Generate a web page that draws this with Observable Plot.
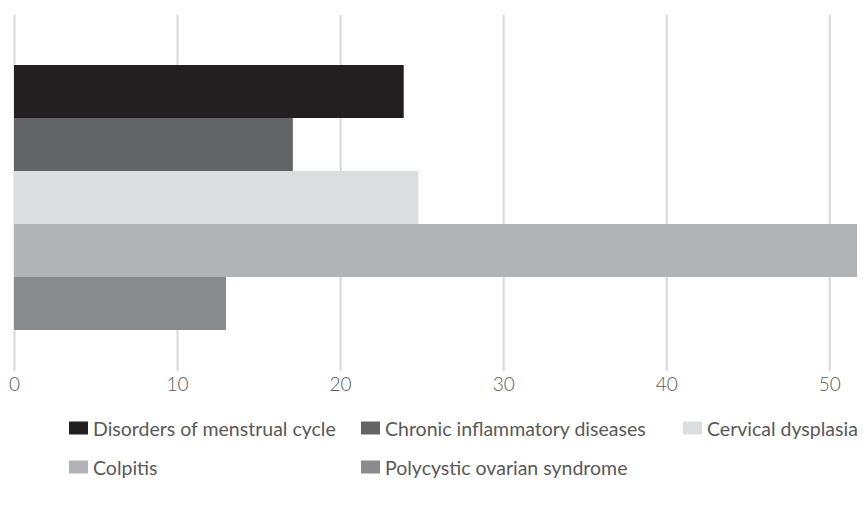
<!DOCTYPE html>
<html>
<head>
<meta charset="utf-8">
<script src="https://cdn.jsdelivr.net/npm/d3@7"></script>
<script src="https://cdn.jsdelivr.net/npm/@observablehq/plot@0.6"></script>
<style>
  html, body { margin: 0; padding: 0; background: #fff; }
  #wrap { position: relative; width: 863px; height: 505px; font-family: Lato, "Open Sans", sans-serif; }
  #legend { position: absolute; left: 0; top: 0; width: 863px; height: 505px; pointer-events: none; }
  .item { position: absolute; display: flex; align-items: center; font-size: 19.5px; color: #595959; white-space: nowrap; transform: translateY(-50%); }
  .sw { width: 19px; height: 13px; margin-right: 5px; }
</style>
</head>
<body>
<div id="wrap"><div id="chart"></div><div id="legend"></div></div>
<script>
const categories = ["Disorders of menstrual cycle", "Chronic inflammatory diseases", "Cervical dysplasia", "Colpitis", "Polycystic ovarian syndrome"];
const values = [23.9, 17.1, 24.8, 51.7, 13.0];
const colors = ["#231f20", "#636466", "#dcddde", "#b2b3b6", "#8a8b8f"];
const xTicks = [0, 10, 20, 30, 40, 50];

const data = categories.map((c, i) => ({category: c, value: values[i]}));

const chart = Plot.plot({
  width: 863,
  height: 400,
  marginLeft: 14,
  marginRight: 6,
  marginTop: 15,
  marginBottom: 29,
  style: {fontFamily: "Lato, 'Open Sans', sans-serif", background: "#fff"},
  x: {domain: [0, 51.7], axis: null},
  y: {domain: categories, axis: null, paddingInner: 0, paddingOuter: 0.82, align: 0.545},
  color: {domain: categories, range: colors},
  marks: [
    Plot.gridX(xTicks, {stroke: "#d9d9d9", strokeOpacity: 1, strokeWidth: 2}),
    Plot.barX(data, {x: "value", y: "category", fill: "category", insetTop: 0, insetBottom: 0}),
    Plot.axisX(xTicks, {tickSize: 0, tickPadding: 6, fontSize: 19, fontWeight: 300, fill: "#595959", label: null, tickFormat: d => String(d)})
  ]
});
document.getElementById("chart").appendChild(chart);

// legend built from the same arrays
const legendPos = [[69, 428], [361, 428], [683, 428], [69, 467], [361, 467]];
const legend = document.getElementById("legend");
categories.forEach((c, i) => {
  const it = document.createElement("div");
  it.className = "item";
  it.style.left = legendPos[i][0] + "px";
  it.style.top = legendPos[i][1] + "px";
  const sw = document.createElement("span");
  sw.className = "sw";
  sw.style.background = colors[i];
  const tx = document.createElement("span");
  tx.textContent = c;
  it.appendChild(sw);
  it.appendChild(tx);
  legend.appendChild(it);
});
</script>
</body>
</html>
